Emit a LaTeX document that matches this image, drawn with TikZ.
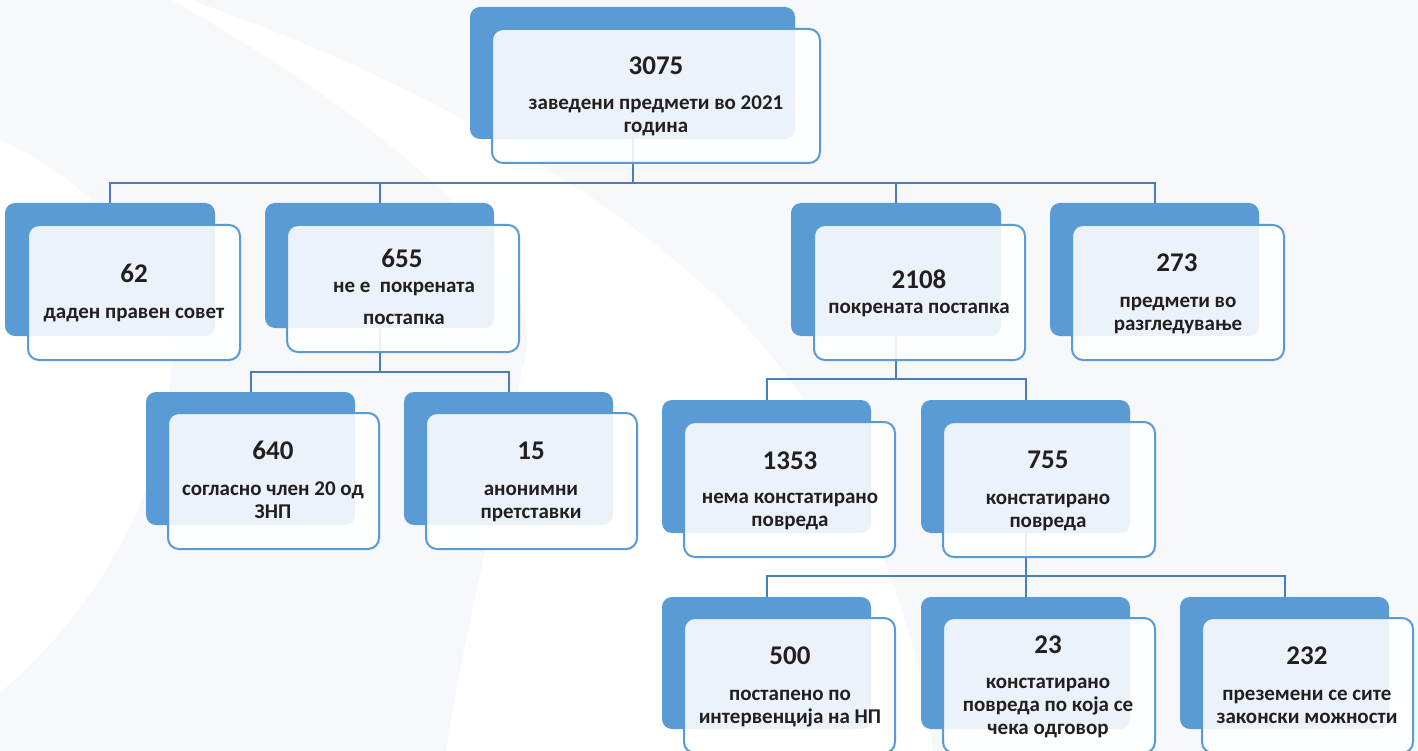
\documentclass[tikz,border=0pt]{standalone}
\usepackage{fontspec}
\setmainfont{Carlito}
\usetikzlibrary{fit}
\definecolor{boxblue}{HTML}{5B9BD5}
\definecolor{connblue}{HTML}{4A7EBB}
\definecolor{txt}{HTML}{231F20}
\definecolor{bgl}{HTML}{F6F8FC}
\tikzset{
  backbox/.style={fill=boxblue, draw=none, rounded corners=10pt, inner sep=0pt},
  frontbox/.style={draw=boxblue, line width=2pt, fill=white, fill opacity=0.88, rounded corners=11pt, inner sep=0pt},
  conn/.style={draw=connblue, line width=2pt},
  num/.style={anchor=base, inner sep=0pt, text=txt, font=\fontsize{27}{32}\selectfont\bfseries},
  lbl/.style={anchor=base, inner sep=0pt, text=txt, align=center, font=\fontsize{21}{23}\selectfont\bfseries},
}
\begin{document}
\begin{tikzpicture}[x=1pt,y=-1pt]
\useasboundingbox (0,0) rectangle (1418,751);
\clip (0,0) rectangle (1418,751);
% background
\fill[white] (0,0) rectangle (1418,751);
\fill[bgl] (0,0) -- (172,0) .. controls (380,120) and (560,260) .. (522,370)
  .. controls (495,520) and (462,640) .. (446,751) -- (0,751) -- (0,693)
  .. controls (110,600) and (178,460) .. (170,350)
  .. controls (165,260) and (90,180) .. (0,140) -- cycle;
\fill[bgl] (190,0) .. controls (480,100) and (720,260) .. (810,410)
  .. controls (880,530) and (920,640) .. (933,751) -- (1418,751) -- (1418,0) -- cycle;
% back boxes
\node[backbox, fit={(470,7)(795,139)}] (b0) {};
\node[backbox, fit={(5,203)(215,336)}] (b1) {};
\node[backbox, fit={(265,203)(494,328)}] (b2) {};
\node[backbox, fit={(791,203)(1001,336)}] (b3) {};
\node[backbox, fit={(1050,203)(1259,336)}] (b4) {};
\node[backbox, fit={(146,392)(355,525)}] (b5) {};
\node[backbox, fit={(404,392)(613,525)}] (b6) {};
\node[backbox, fit={(662,400)(871,533)}] (b7) {};
\node[backbox, fit={(921,400)(1130,533)}] (b8) {};
\node[backbox, fit={(662,597)(871,729)}] (b9) {};
\node[backbox, fit={(921,597)(1130,729)}] (b10) {};
\node[backbox, fit={(1180,597)(1389,729)}] (b11) {};
% bus levels
\coordinate (bus1) at (0,183);
\coordinate (bus2) at (0,372);
\coordinate (bus3) at (0,379);
\coordinate (bus4) at (0,576);
% connectors
\draw[conn] (b0.south) -- (b0.south |- bus1) -| (b1.north);
\draw[conn] (b0.south) -- (b0.south |- bus1) -| (b2.north);
\draw[conn] (b0.south) -- (b0.south |- bus1) -| (b3.north);
\draw[conn] (b0.south) -- (b0.south |- bus1) -| (b4.north);
\draw[conn] (b2.south) -- (b2.south |- bus2) -| (b5.north);
\draw[conn] (b2.south) -- (b2.south |- bus2) -| (b6.north);
\draw[conn] (b3.south) -- (b3.south |- bus3) -| (b7.north);
\draw[conn] (b3.south) -- (b3.south |- bus3) -| (b8.north);
\draw[conn] (b8.south) -- (b8.south |- bus4) -| (b9.north);
\draw[conn] (b8.south) -- (b8.south |- bus4) -| (b10.north);
\draw[conn] (b8.south) -- (b8.south |- bus4) -| (b11.north);
% front boxes
\node[frontbox, fit={(492,29)(820,163)}] (f0) {};
\node[frontbox, fit={(28,225)(240,360)}] (f1) {};
\node[frontbox, fit={(287,225)(519,352)}] (f2) {};
\node[frontbox, fit={(814,225)(1025,360)}] (f3) {};
\node[frontbox, fit={(1072,225)(1284,360)}] (f4) {};
\node[frontbox, fit={(168,413)(379,549)}] (f5) {};
\node[frontbox, fit={(426,413)(637,549)}] (f6) {};
\node[frontbox, fit={(684,422)(895,557)}] (f7) {};
\node[frontbox, fit={(943,422)(1155,557)}] (f8) {};
\node[frontbox, fit={(684,618)(895,753)}] (f9) {};
\node[frontbox, fit={(943,618)(1155,753)}] (f10) {};
\node[frontbox, fit={(1202,618)(1413,753)}] (f11) {};
% texts (base anchor = baseline of last line)
\node[num] (n0) at (656,75) {3075};
\node[lbl] (l0) at (656,133) {заведени предмети во 2021\\година};
\node[num] (n1) at (134,283) {62};
\node[lbl] (l1) at (134,318) {даден правен совет};
\node[num] (n2) at (402,268) {655};
\node[lbl] (l2) at (404,324) {не е\ \ покрената\\[9pt]постапка};
\node[num] (n3) at (919,288) {2108};
\node[lbl] (l3) at (919,313) {покрената постапка};
\node[num] (n4) at (1177,272) {273};
\node[lbl] (l4) at (1178,330) {предмети во\\разгледување};
\node[num] (n5) at (273,459) {640};
\node[lbl] (l5) at (273,518) {согласно член 20 од\\ЗНП};
\node[num] (n6) at (531,459) {15};
\node[lbl] (l6) at (531,518) {анонимни\\претставки};
\node[num] (n7) at (790,469) {1353};
\node[lbl] (l7) at (790,526) {нема констатирано\\повреда};
\node[num] (n8) at (1048,468) {755};
\node[lbl] (l8) at (1048,527) {констатирано\\повреда};
\node[num] (n9) at (790,664) {500};
\node[lbl] (l9) at (790,723) {постапено по\\интервенција на НП};
\node[num] (n10) at (1048,653) {23};
\node[lbl] (l10) at (1048,734) {констатирано\\повреда по која се\\чека одговор};
\node[num] (n11) at (1307,664) {232};
\node[lbl] (l11) at (1307,723) {преземени се сите\\законски можности};
\end{tikzpicture}
\end{document}
